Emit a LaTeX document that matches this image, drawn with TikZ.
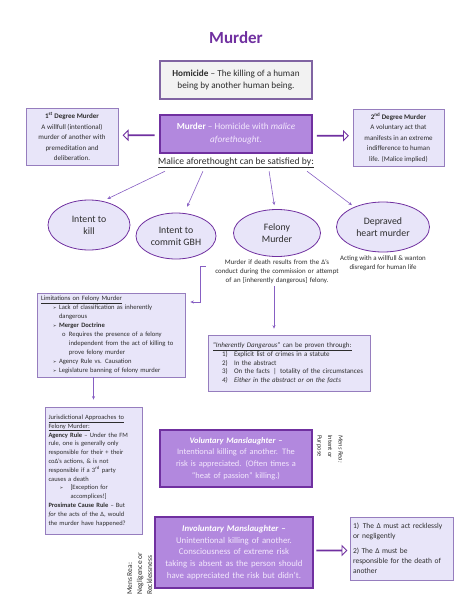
\documentclass[tikz,border=0pt]{standalone}
\usepackage{fontspec}
\setmainfont{Carlito}
\newfontfamily\dejavu{DejaVu Sans}
\usetikzlibrary{positioning, shapes.arrows, shapes.geometric, arrows.meta, calc}
\definecolor{title}{RGB}{112,48,160}
\definecolor{lav}{RGB}{232,229,249}
\definecolor{lavline}{RGB}{150,125,190}
\definecolor{mauve}{RGB}{178,136,222}
\definecolor{plum}{RGB}{112,48,160}
\definecolor{pale}{RGB}{243,232,253}
\definecolor{ink}{RGB}{45,45,45}
\definecolor{wire}{RGB}{135,95,195}
\tikzstyle{note}=[rectangle, draw=lavline, fill=lav, line width=.7pt, text=ink, inner sep=0pt]
\tikzstyle{keybox}=[rectangle, draw=plum, fill=mauve, line width=1.1pt, text=pale, align=center, inner sep=0pt]
\tikzstyle{way}=[ellipse, draw=plum, fill=lav, line width=.8pt, align=center, inner sep=0pt, text=ink, font=\fontsize{9.8}{12}\selectfont]
\tikzstyle{link}=[draw=wire, line width=.6pt, -{Stealth[length=3.5pt,width=3pt]}]
\tikzstyle{fat}=[single arrow, draw=plum, fill=white, line width=.8pt, minimum height=31pt, minimum width=6pt, single arrow head extend=4.5pt, single arrow head indent=0pt, inner sep=0pt]
\newcommand{\fmbul}[1]{\par\hangindent=18pt\hangafter=1\noindent\hspace*{12pt}\makebox[6pt][l]{\dejavu\fontsize{4.5}{9}\selectfont ➢}#1}
\newcommand{\fmsub}[1]{\par\hangindent=28pt\hangafter=1\noindent\hspace*{21pt}\makebox[7pt][l]{o}#1}

\begin{document}
\begin{tikzpicture}[x=1pt,y=-1pt]
            \useasboundingbox (0,0) rectangle (474,613);
            %Title and definitions
            \node[font=\fontsize{17}{20}\selectfont\bfseries, text=title] (title) at (236,38) {Murder};
            \node[rectangle, draw={rgb,255:red,128;green,100;blue,162}, line width=1.3pt, fill={rgb,255:red,242;green,242;blue,242}, text=ink, minimum width=152pt, minimum height=38pt, inner sep=0pt, align=center, font=\fontsize{9.2}{11.5}\selectfont] (homicide) at (236,80) {\textbf{Homicide} – The killing of a human\\being by another human being.};
            \node[keybox, minimum width=152pt, minimum height=38pt, font=\fontsize{9.2}{13}\selectfont] (murder) at (236,134) {\textcolor{white}{\textbf{Murder}} – Homicide with \textit{malice}\\\textit{aforethought}.};
            \node[note, minimum width=92pt, minimum height=57pt, align=center, font=\fontsize{7}{10.5}\selectfont] (deg1) at (72,136.5) {\textbf{1\textsuperscript{st} Degree Murder}\\A willfull (intentional)\\murder of another with\\premeditation and\\deliberation.};
            \node[note, minimum width=91pt, minimum height=57pt, align=center, font=\fontsize{7}{10.5}\selectfont] (deg2) at (398.5,137.5) {\textbf{2\textsuperscript{nd} Degree Murder}\\A voluntary act that\\manifests in an extreme\\indifference to human\\life. (Malice implied)};
            \node[fat, shape border rotate=180] (arrow1) at ($(murder.west)!.5!(deg1.east)$) {};
            \node[fat] (arrow2) at ($(murder.east)!.5!(deg2.west)$) {};
            \node[below=4pt of murder, inner sep=0pt, text=ink, font=\fontsize{9.6}{11}\selectfont] (malice) {\underline{Malice aforethought can be satisfied by:}};

            %Ways to satisfy malice
            \node[way, minimum width=82pt, minimum height=50pt] (kill) at (89,225) {Intent to\\kill};
            \node[way, minimum width=80pt, minimum height=46pt] (gbh) at (176,236) {Intent to\\commit GBH};
            \node[way, minimum width=87pt, minimum height=47pt] (felony) at (277,233) {Felony\\Murder};
            \node[way, minimum width=93pt, minimum height=50pt] (depraved) at (383,227) {Depraved\\heart murder};
            \draw[link, shorten >=5pt] ([xshift=7pt,yshift=-3pt]malice.south west) -- (kill.60);
            \draw[link, shorten >=7pt] ([xshift=45pt,yshift=-3pt]malice.south west) -- (gbh.70);
            \draw[link, shorten >=4pt] ([xshift=-45pt,yshift=-3pt]malice.south east) -- (felony.95);
            \draw[link, shorten >=3pt] ([xshift=-7pt,yshift=-3pt]malice.south east) -- (depraved.145);
            \node[below=3pt of felony, inner sep=0pt, text width=142pt, align=center, text=ink, font=\fontsize{6.9}{9}\selectfont] (fmtext) {Murder if death results from the Δ’s\\conduct during the commission or attempt\\of an [inherently dangerous] felony.};
            \node[below=3pt of depraved, inner sep=0pt, align=center, text=ink, font=\fontsize{6.9}{9.5}\selectfont] (dhtext) {Acting with a willfull \& wanton\\disregard for human life};

            %Felony murder notes
            \node[note, minimum width=148pt, minimum height=84pt, text width=140pt, align=left, font=\fontsize{6.6}{9}\selectfont] (limits) at (111,335) {\underline{Limitations on Felony Murder}
                \fmbul{Lack of classification as inherently\newline dangerous}
                \fmbul{\textbf{Merger Doctrine}}
                \fmsub{Requires the presence of a felony\newline independent from the act of killing to\newline prove felony murder}
                \fmbul{Agency Rule vs. Causation}
                \fmbul{Legislature banning of felony murder}};
            \node[note, minimum width=162pt, minimum height=56pt, text width=152pt, align=left, font=\fontsize{7}{8.8}\selectfont] (inher) at (289,363) {\underline{“\textit{Inherently Dangerous}” can be proven through:}\\
                \hspace*{9pt}\makebox[12pt][l]{1)}Explicit list of crimes in a statute\\
                \hspace*{9pt}\makebox[12pt][l]{2)}In the abstract\\
                \hspace*{9pt}\makebox[12pt][l]{3)}On the facts \,|\, totality of the circumstances\\
                \hspace*{9pt}\makebox[12pt][l]{\textit{4)}}\textit{Either in the abstract or on the facts}};
            \node[note, minimum width=97pt, minimum height=127pt, text width=90pt, align=left, font=\fontsize{6.5}{8.8}\selectfont] (juris) at (93.5,470.5) {\underline{Jurisdictional Approaches to}\\
                \underline{Felony Murder:}\\
                \textbf{Agency Rule} – Under the FM\\
                rule, one is generally only\\
                responsible for their + their\\
                coΔ’s actions, \& is not\\
                responsible if a 3\smash{\textsuperscript{rd}} party\\
                causes a death
                \par\hangindent=22pt\hangafter=1\noindent\hspace*{11pt}\makebox[11pt][l]{\dejavu\fontsize{4.5}{8.8}\selectfont ➢}[Exception for\newline accomplices!]
                \par\noindent\textbf{Proximate Cause Rule} – But\\
                \textit{for} the acts of the Δ, would\\
                the murder have happened?};
            \draw[link] ([yshift=6pt]fmtext.west) -- ++(-6,0) |- ([xshift=5pt,yshift=33pt]limits.east);
            \draw[link, shorten >=6pt] ([xshift=-3pt,yshift=-2pt]fmtext.south) -- ([xshift=-3pt]fmtext.south |- inher.north);
            \draw[link, shorten >=7pt] (limits.south -| juris.north) -- (juris.north);

            %Manslaughter
            \node[keybox, minimum width=152pt, minimum height=57pt, text width=150pt, font=\fontsize{8.4}{11.7}\selectfont] (vol) at (236,458.5) {\textcolor{white}{\textbf{\textit{Voluntary Manslaughter –}}}\\Intentional killing of another. The\\risk is appreciated. (Often times a\\“heat of passion” killing.)};
            \node[rotate=-90, anchor=north west, inner sep=0pt, align=left, text=ink, font=\fontsize{6.5}{10.5}\selectfont] (mens1) at (343,435) {\textit{Mens Rea:}\\Intent or\\Purpose};
            \node[keybox, minimum width=158pt, minimum height=71pt, text width=156pt, font=\fontsize{8.8}{11.7}\selectfont] (invol) at (234,552.5) {\textcolor{white}{\textbf{\textit{Involuntary Manslaughter –}}}\\Unintentional killing of another.\\Consciousness of extreme risk\\taking is absent as the person should\\have appreciated the risk but didn’t.};
            \node[rotate=90, anchor=north west, inner sep=0pt, align=left, text=ink, font=\fontsize{7.5}{10}\selectfont] (mens2) at (127,595) {Mens Rea:\\Negligence or\\Recklessness};
            \node[note, minimum width=103pt, minimum height=63pt, text width=97pt, align=left, font=\fontsize{7.5}{10}\selectfont] (needs) at (401.5,548.5) {1)\, The Δ must act recklessly\\or negligently\par\vspace{5pt}\noindent 2) The Δ must be\\responsible for the death of\\another};
            \node[fat, minimum height=30pt] (arrow3) at ($(invol.east)!.5!(needs.west)$) {};
        \end{tikzpicture}
\end{document}
